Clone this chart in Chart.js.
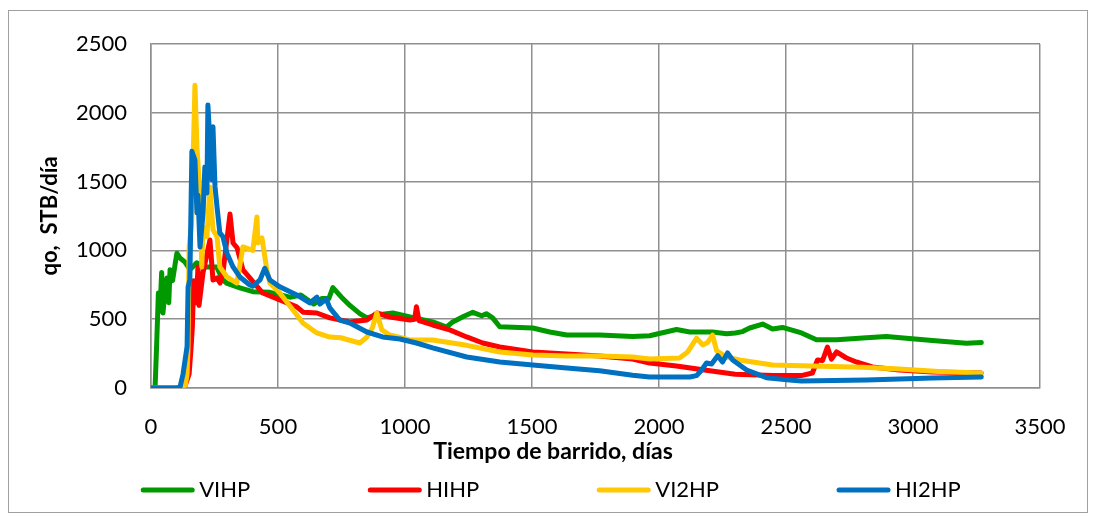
<!DOCTYPE html>
<html>
<head>
<meta charset="utf-8">
<title>qo vs Tiempo de barrido</title>
<script src="https://cdn.jsdelivr.net/npm/chart.js@4/dist/chart.umd.min.js"></script>
<style>
  html, body { margin: 0; padding: 0; background: #ffffff; }
  canvas { display: block; }
</style>
</head>
<body>
<canvas id="chart" width="1096" height="518"></canvas>
<script>
// Tasa de petróleo (STB/día) frente al tiempo de barrido (días) para cuatro arreglos de pozos.

const seriesNames = ['VIHP', 'HIHP', 'VI2HP', 'HI2HP'];

const vihpDays = [0,10,16,22,29,35,42,47,55,63,70,75,85,95,102,114,134,153,180,215,258,283,300,350,401,468,547,590,640,672,700,716,750,783,822,850,889,952,1019,1109,1164,1188,1230,1267,1302,1320,1345,1373,1503,1570,1637,1766,1896,1963,2069,2121,2211,2266,2300,2329,2357,2408,2447,2486,2561,2620,2700,2817,2895,3076,3210,3269];
const vihpRate = [0,0,0,300,690,560,840,545,700,800,620,860,780,900,980,945,915,860,910,880,880,785,760,727,700,695,660,676,610,650,650,730,660,600,540,510,530,545,516,480,443,480,520,550,525,540,510,445,436,407,385,385,375,380,425,407,407,395,400,410,436,465,429,440,400,350,350,365,375,345,325,330];

const hihpDays = [0,110,135,150,158,163,168,178,185,189,205,232,244,260,272,283,311,323,339,362,389,440,507,574,600,653,704,783,850,889,940,1019,1038,1045,1055,1109,1176,1243,1306,1373,1503,1637,1766,1896,1963,2069,2200,2300,2450,2560,2604,2624,2644,2663,2679,2699,2738,2777,2840,2946,3076,3269];
const hihpRate = [0,0,20,100,300,450,780,620,880,600,840,1076,785,800,763,836,1265,1054,1018,858,800,690,640,590,550,545,510,480,494,545,516,494,500,590,490,458,422,371,327,298,262,247,233,211,182,160,125,100,90,90,109,204,200,298,210,262,218,189,153,131,116,109];

const vi2hpDays = [0,110,135,142,146,150,160,173,181,193,200,205,220,232,244,260,271,299,338,362,401,417,421,437,456,468,507,559,598,653,704,747,786,822,850,872,889,909,940,1019,1109,1243,1373,1503,1637,1766,1896,1963,2081,2113,2148,2172,2191,2211,2227,2266,2317,2447,2600,2800,2946,3100,3269];
const vi2hpRate = [0,0,20,100,300,1025,1200,2200,1750,1390,880,1170,1100,1460,1150,1100,880,807,763,1025,1000,1243,1054,1090,858,763,690,567,472,400,370,365,345,327,370,440,545,422,385,349,349,310,262,240,233,233,225,211,218,262,363,313,330,385,270,225,204,167,160,150,138,120,109];

const hi2hpDays = [0,100,114,126,142,146,153,161,173,181,185,193,205,212,220,224,240,244,252,260,271,283,299,323,350,389,401,429,448,468,507,574,625,653,665,690,704,743,783,850,912,980,1045,1109,1243,1373,1503,1637,1766,1896,1963,2121,2148,2168,2187,2207,2231,2250,2270,2290,2345,2423,2514,2561,2817,3076,3269];
const hi2hpRate = [0,0,5,100,300,735,785,1720,1657,1272,1400,1025,1272,1607,1418,2057,1512,1898,1463,1316,1127,1100,980,880,807,749,740,785,870,785,735,676,618,660,610,647,582,494,472,407,371,356,327,291,225,189,167,145,125,92,80,80,90,131,182,175,235,189,255,204,131,75,58,51,58,73,80];

const xTitle = 'Tiempo de barrido, días';
const yTitle = 'qo,  STB/día';

const seriesColors = ['#009a00', '#ff0000', '#ffc800', '#0070c0'];
const gridColor = '#8f8f8f';
const fontFamily = 'Lato, "Open Sans", sans-serif';

function toPoints(days, rates) {
  return days.map((d, i) => ({ x: d, y: rates[i] }));
}

const seriesData = [
  toPoints(vihpDays, vihpRate),
  toPoints(hihpDays, hihpRate),
  toPoints(vi2hpDays, vi2hpRate),
  toPoints(hi2hpDays, hi2hpRate)
];

const datasets = seriesNames.map((name, i) => ({
  label: name,
  data: seriesData[i],
  borderColor: seriesColors[i],
  backgroundColor: seriesColors[i],
  borderWidth: 5,
  pointRadius: 0,
  tension: 0,
  fill: false,
  borderJoinStyle: 'round',
  borderCapStyle: 'round',
  order: seriesNames.length - i
}));

// Frame, axis titles and legend drawn around the plot area
const decorations = {
  id: 'decorations',
  beforeDraw(chart) {
    const ctx = chart.ctx;
    ctx.save();
    ctx.fillStyle = '#ffffff';
    ctx.fillRect(0, 0, chart.width, chart.height);
    ctx.restore();
  },
  afterDraw(chart) {
    const ctx = chart.ctx;
    ctx.save();
    ctx.strokeStyle = '#a0a0a0';
    ctx.lineWidth = 1;
    ctx.strokeRect(8.5, 10.5, 1079, 502);

    ctx.fillStyle = '#000000';
    ctx.font = 'bold 23px ' + fontFamily;
    ctx.textAlign = 'center';
    ctx.textBaseline = 'middle';
    ctx.fillText(xTitle, 553, 452);

    ctx.save();
    ctx.font = 'bold 22px ' + fontFamily;
    ctx.translate(50, 216);
    ctx.rotate(-Math.PI / 2);
    ctx.fillText(yTitle, 0, 0);
    ctx.restore();

    // legend
    ctx.font = '22px ' + fontFamily;
    const lineLen = 53, textGap = 5, itemGap = 118;
    const widths = seriesNames.map(n => ctx.measureText(n).width);
    let total = 0;
    widths.forEach((w, i) => { total += lineLen + textGap + w + (i < widths.length - 1 ? itemGap : 0); });
    let x = 551 - total / 2;
    const ly = 490;
    ctx.textAlign = 'left';
    seriesNames.forEach((name, i) => {
      ctx.strokeStyle = seriesColors[i];
      ctx.lineWidth = 5;
      ctx.lineCap = 'round';
      ctx.beginPath();
      ctx.moveTo(x + 2, ly);
      ctx.lineTo(x + lineLen - 2, ly);
      ctx.stroke();
      ctx.fillStyle = '#000000';
      ctx.fillText(name, x + lineLen + textGap, ly);
      x += lineLen + textGap + widths[i] + itemGap;
    });
    ctx.restore();
  }
};

const plainNumber = v => String(v);

new Chart(document.getElementById('chart'), {
  type: 'line',
  data: { datasets },
  options: {
    responsive: false,
    animation: false,
    devicePixelRatio: 1,
    layout: { padding: { left: 0, right: 56, top: 44, bottom: 0 } },
    plugins: {
      legend: { display: false },
      tooltip: { enabled: false },
      title: { display: false }
    },
    scales: {
      x: {
        type: 'linear',
        min: 0,
        max: 3500,
        ticks: {
          stepSize: 500,
          padding: 26,
          color: '#000000',
          maxRotation: 0,
          autoSkip: false,
          callback: plainNumber,
          font: { family: fontFamily, size: 22 }
        },
        grid: { color: gridColor, lineWidth: 1.5, drawTicks: false },
        border: { color: gridColor, width: 1.5 },
        afterFit(scale) { scale.height = 130; }
      },
      y: {
        type: 'linear',
        min: 0,
        max: 2500,
        ticks: {
          stepSize: 500,
          padding: 24,
          color: '#000000',
          callback: plainNumber,
          font: { family: fontFamily, size: 22 }
        },
        grid: { color: gridColor, lineWidth: 1.5, drawTicks: false },
        border: { color: gridColor, width: 1.5 },
        afterFit(scale) { scale.width = 151; }
      }
    }
  },
  plugins: [decorations]
});
</script>
</body>
</html>
